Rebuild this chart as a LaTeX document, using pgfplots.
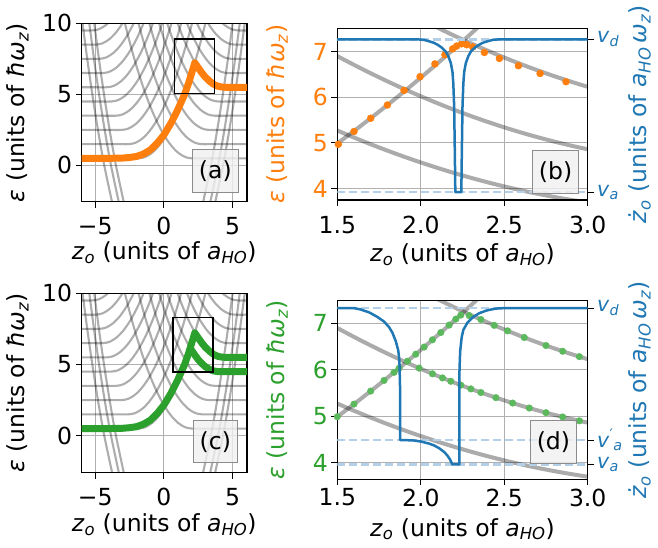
\documentclass[border=0pt]{standalone}
\usepackage{pgfplots}
\pgfplotsset{compat=1.18}
\usepackage{fontspec}
\setmainfont{DejaVu Sans}
\definecolor{tabblue}{HTML}{1F77B4}
\definecolor{taborange}{HTML}{FF7F0E}
\definecolor{tabgreen}{HTML}{2CA02C}
\definecolor{dotgreen}{HTML}{5CB85C}
\definecolor{gridc}{HTML}{B0B0B0}
\definecolor{dashc}{HTML}{B3D0E8}
\newcommand{\F}{\fontsize{23.5}{28}\selectfont}
\newcommand{\Fs}{\fontsize{20.5}{24}\selectfont}
\newcommand{\epsl}{\textit{ε} (units of \textit{ħω}\textsubscript{\textit{z}})}
\newcommand{\zlab}{\textit{z}\textsubscript{\textit{o}} (units of \textit{a}\textsubscript{\textit{HO}})}
\newcommand{\vlab}{\textit{ż}\textsubscript{\textit{o}} (units of \textit{a}\textsubscript{\textit{HO}}\,\textit{ω}\textsubscript{\textit{z}})}
\newcommand{\vD}{\textit{v}\textsubscript{\textit{d}}}
\newcommand{\vA}{\textit{v}\textsubscript{\textit{a}}}
\newcommand{\vAp}{\textit{v}\textsuperscript{′}\textsubscript{\textit{a}}}

\pgfplotsset{
 base/.style={scale only axis, anchor=south west, font=\F,
   tick label style={font=\F}, label style={font=\F},
   tick align=outside, major tick length=6pt,
   every tick/.style={black, line width=1pt},
   axis line style={line width=1.2pt}, clip=true},
 gcurve/.style={draw=black, opacity=0.32, line width=2.1pt, smooth, no markers},
 gfine/.style={draw=black, opacity=0.33, line width=4pt, smooth, no markers},
 gridst/.style={grid=major, grid style={gridc, line width=0.9pt}},
}

\newcommand{\graybig}{%
\addplot[gcurve] coordinates {(-6.5,0.5) (-2.85,0.5) (-1.85,0.5) (-1.35,0.6) (-0.85,0.9) (-0.35,1.4) (0.15,2.1) (0.65,3.0) (1.15,4.1) (1.65,5.4) (2.15,6.9) (2.65,8.6) (3.15,10.5)};
\addplot[gcurve] coordinates {(-6.5,1.5) (-3.56,1.5) (-2.56,1.5) (-2.06,1.6) (-1.56,1.9) (-1.06,2.4) (-0.56,3.1) (-0.06,4.0) (0.44,5.1) (0.94,6.4) (1.44,7.9) (1.94,9.6) (2.44,11.5)};
\addplot[gcurve] coordinates {(-6.5,2.5) (-4.07,2.5) (-3.07,2.5) (-2.57,2.6) (-2.07,2.9) (-1.57,3.4) (-1.07,4.1) (-0.57,5.0) (-0.07,6.1) (0.43,7.4) (0.93,8.9) (1.43,10.6)};
\addplot[gcurve] coordinates {(-6.5,3.5) (-4.48,3.5) (-3.48,3.5) (-2.98,3.6) (-2.48,3.9) (-1.98,4.4) (-1.48,5.1) (-0.98,6.0) (-0.48,7.1) (0.02,8.4) (0.52,9.9) (1.02,11.6)};
\addplot[gcurve] coordinates {(-6.5,4.5) (-4.83,4.5) (-3.83,4.5) (-3.33,4.6) (-2.83,4.9) (-2.33,5.4) (-1.83,6.1) (-1.33,7.0) (-0.83,8.1) (-0.33,9.4) (0.17,10.9)};
\addplot[gcurve] coordinates {(-6.5,5.5) (-5.15,5.5) (-4.15,5.5) (-3.65,5.6) (-3.15,5.9) (-2.65,6.4) (-2.15,7.1) (-1.65,8.0) (-1.15,9.1) (-0.65,10.4) (-0.15,11.9)};
\addplot[gcurve] coordinates {(-6.5,6.5) (-5.44,6.5) (-4.44,6.5) (-3.94,6.6) (-3.44,6.9) (-2.94,7.4) (-2.44,8.1) (-1.94,9.0) (-1.44,10.1) (-0.94,11.4)};
\addplot[gcurve] coordinates {(-6.5,7.5) (-5.7,7.5) (-4.7,7.5) (-4.2,7.6) (-3.7,7.9) (-3.2,8.4) (-2.7,9.1) (-2.2,10.0) (-1.7,11.1)};
\addplot[gcurve] coordinates {(-6.5,8.5) (-5.95,8.5) (-4.95,8.5) (-4.45,8.6) (-3.95,8.9) (-3.45,9.4) (-2.95,10.1) (-2.45,11.0)};
\addplot[gcurve] coordinates {(-6.5,9.5) (-6.19,9.5) (-5.19,9.5) (-4.69,9.6) (-4.19,9.9) (-3.69,10.4) (-3.19,11.1)};
\addplot[gcurve] coordinates {(-2.97,10.5) (-2.47,8.6) (-1.97,6.9) (-1.47,5.4) (-0.97,4.1) (-0.47,3.0) (0.03,2.1) (0.53,1.4) (1.03,0.9) (1.53,0.6) (2.03,0.5) (3.03,0.5) (6.5,0.5)};
\addplot[gcurve] coordinates {(-2.24,11.5) (-1.74,9.6) (-1.24,7.9) (-0.74,6.4) (-0.24,5.1) (0.26,4.0) (0.76,3.1) (1.26,2.4) (1.76,1.9) (2.26,1.6) (2.76,1.5) (3.76,1.5) (6.5,1.5)};
\addplot[gcurve] coordinates {(-1.23,10.6) (-0.73,8.9) (-0.23,7.4) (0.27,6.1) (0.77,5.0) (1.27,4.1) (1.77,3.4) (2.27,2.9) (2.77,2.6) (3.27,2.5) (4.27,2.5) (6.5,2.5)};
\addplot[gcurve] coordinates {(-0.82,11.6) (-0.32,9.9) (0.18,8.4) (0.68,7.1) (1.18,6.0) (1.68,5.1) (2.18,4.4) (2.68,3.9) (3.18,3.6) (3.68,3.5) (4.68,3.5) (6.5,3.5)};
\addplot[gcurve] coordinates {(-0.05,10.9) (0.45,9.4) (0.95,8.1) (1.45,7.0) (1.95,6.1) (2.45,5.4) (2.95,4.9) (3.45,4.6) (3.95,4.5) (4.95,4.5) (6.5,4.5)};
\addplot[gcurve] coordinates {(0.35,11.9) (0.85,10.4) (1.35,9.1) (1.85,8.0) (2.35,7.1) (2.85,6.4) (3.35,5.9) (3.85,5.6) (4.35,5.5) (5.35,5.5) (6.5,5.5)};
\addplot[gcurve] coordinates {(1.14,11.4) (1.64,10.1) (2.14,9.0) (2.64,8.1) (3.14,7.4) (3.64,6.9) (4.14,6.6) (4.64,6.5) (5.64,6.5) (6.5,6.5)};
\addplot[gcurve] coordinates {(1.9,11.1) (2.4,10.0) (2.9,9.1) (3.4,8.4) (3.9,7.9) (4.4,7.6) (4.9,7.5) (5.9,7.5) (6.5,7.5)};
\addplot[gcurve] coordinates {(2.65,11.0) (3.15,10.1) (3.65,9.4) (4.15,8.9) (4.65,8.6) (5.15,8.5) (6.15,8.5) (6.5,8.5)};
\addplot[gcurve] coordinates {(3.39,11.1) (3.89,10.4) (4.39,9.9) (4.89,9.6) (5.39,9.5) (6.5,9.5)};
\addplot[gcurve] coordinates {(2.76,-3) (3.422,0) (3.883,2.5) (4.291,5) (4.662,7.5) (5.003,10) (5.069,10.5)};
\addplot[gcurve] coordinates {(3.28,-3) (3.942,0) (4.403,2.5) (4.811,5) (5.182,7.5) (5.523,10) (5.589,10.5)};
\addplot[gcurve] coordinates {(3.64,-3) (4.302,0) (4.763,2.5) (5.171,5) (5.542,7.5) (5.883,10) (5.949,10.5)};
\addplot[gcurve] coordinates {(-3.68,-3) (-4.342,0) (-4.803,2.5) (-5.211,5) (-5.582,7.5) (-5.923,10) (-5.989,10.5)};
\addplot[gcurve] coordinates {(-3.19,-3) (-3.852,0) (-4.313,2.5) (-4.721,5) (-5.092,7.5) (-5.433,10) (-5.499,10.5)};
\addplot[gcurve] coordinates {(-2.83,-3) (-3.492,0) (-3.953,2.5) (-4.361,5) (-4.732,7.5) (-5.073,10) (-5.139,10.5)};
}

\newcommand{\grayfine}{%
\addplot[gfine] coordinates {(1.4,4.725) (1.5,4.989) (1.6,5.261) (1.7,5.541) (1.8,5.829) (1.9,6.125) (2.0,6.429) (2.1,6.741) (2.2,7.061) (2.3,7.389) (2.4,7.725)};
\addplot[gfine] coordinates {(2.0,7.709) (2.1,7.525) (2.2,7.349) (2.3,7.181) (2.4,7.021) (2.5,6.869) (2.6,6.725) (2.7,6.589) (2.8,6.461) (2.9,6.341) (3.0,6.229) (3.1,6.125)};
\addplot[gfine] coordinates {(1.4,7.101) (1.5,6.901) (1.6,6.709) (1.7,6.525) (1.8,6.349) (1.9,6.181) (2.0,6.021) (2.1,5.869) (2.2,5.725) (2.3,5.589) (2.4,5.461) (2.5,5.341) (2.6,5.229) (2.7,5.125) (2.8,5.029) (2.9,4.941) (3.0,4.861) (3.1,4.789)};
\addplot[gfine] coordinates {(1.4,5.433) (1.5,5.272) (1.6,5.118) (1.7,4.971) (1.8,4.831) (1.9,4.698) (2.0,4.572) (2.1,4.453) (2.2,4.341) (2.3,4.236) (2.4,4.138) (2.5,4.047) (2.6,3.963) (2.7,3.886) (2.8,3.816) (2.9,3.753) (3.0,3.697) (3.1,3.648)};
}

\newcommand{\mainpath}{(-6.2,0.5) (-4,0.5) (-3,0.52) (-2.5,0.56) (-2,0.63) (-1.5,0.8) (-1,1.08) (-0.5,1.55) (0,2.15) (0.5,2.95) (1.0,3.9) (1.5,4.98) (1.8,5.8) (2.0,6.43) (2.15,6.9) (2.25,7.22)}

\begin{document}
\begin{tikzpicture}
% ---------- (a)
\begin{axis}[base, gridst, at={(81.5pt,346.3pt)}, width=165.5pt, height=178.4pt,
  xmin=-6, xmax=6.05, ymin=-2.55, ymax=10,
  xtick={-5,0,5}, xticklabels={−5,0,5}, ytick={0,5,10}, yticklabels={0,5,10},
  xtick pos=left, ytick pos=left, xticklabel style={yshift=-6pt},
  xlabel={\zlab}, ylabel={\epsl},
  xlabel style={at={(axis description cs:0.5,-0.285)}, anchor=center},
  ylabel style={at={(axis description cs:-0.385,0.5)}, anchor=center}]
\graybig
\addplot[taborange, line width=7pt, line join=round] coordinates {\mainpath (2.35,7.08) (2.5,6.87) (2.75,6.53) (3.0,6.23) (3.3,5.95) (3.6,5.72) (3.9,5.58) (4.2,5.52) (4.5,5.5) (6.3,5.5)};
\draw[black, line width=1.2pt] (0.8,5.05) rectangle (3.71,8.9);
\draw[draw=black!45, fill=black!6, fill opacity=0.8, line width=1pt] (2.08,-1.9) rectangle (5.41,1.1);
\node[font=\F] at (3.745,-0.4) {(a)};
\end{axis}
% ---------- (b)
\begin{axis}[base, gridst, at={(337.3pt,348pt)}, width=250.4pt, height=171.7pt,
  xmin=1.5, xmax=3, ymin=3.75, ymax=7.51,
  xtick={1.5,2,2.5,3}, xticklabels={1.5,2.0,2.5,3.0}, ytick={4,5,6,7}, yticklabels={4,5,6,7},
  xtick pos=left, ytick pos=left, yticklabel style={text=taborange}, xticklabel style={yshift=-7pt},
  xlabel={\zlab}, ylabel={\epsl},
  xlabel style={at={(axis description cs:0.5,-0.32)}, anchor=center},
  ylabel style={text=taborange, at={(axis description cs:-0.241,0.5)}, anchor=center}]
\grayfine
\addplot[only marks, mark=*, mark size=3.5pt, mark options={fill=taborange, draw=taborange}] coordinates {
(1.506,4.97) (1.600,5.25) (1.700,5.54) (1.800,5.83) (1.900,6.15) (1.996,6.45) (2.085,6.73) (2.145,6.93) (2.191,7.06) (2.215,7.12) (2.245,7.17) (2.275,7.15) (2.311,7.10) (2.381,6.98) (2.471,6.85) (2.585,6.69) (2.715,6.52) (2.870,6.34)};
\end{axis}
\begin{axis}[base, at={(337.3pt,348pt)}, width=250.4pt, height=171.7pt,
  xmin=1.5, xmax=3, ymin=3.75, ymax=7.51, axis x line=none, axis y line*=right,
  ytick={3.92,7.27}, yticklabels={\vA,\vD}, yticklabel style={text=tabblue, font=\Fs},
  ylabel={\vlab}, ylabel style={text=tabblue, at={(axis description cs:1.209,0.5)}, anchor=center}]
\addplot[dashc, line width=2.5pt, dash pattern=on 8pt off 4pt] coordinates {(1.5,7.27) (3,7.27)};
\addplot[dashc, line width=2.5pt, dash pattern=on 8pt off 4pt] coordinates {(1.5,3.92) (3,3.92)};
\addplot[tabblue, line width=2.5pt, line join=round] coordinates {(1.5,7.27) (1.975,7.27) (2.02,7.255) (2.055,7.22) (2.08,7.19) (2.1,7.15) (2.125,7.09) (2.15,7.0) (2.165,6.9) (2.18,6.75) (2.19,6.55) (2.195,6.3) (2.2,5.8) (2.204,4.8) (2.207,3.92) (2.243,3.92) (2.246,4.8) (2.25,5.8) (2.255,6.3) (2.26,6.55) (2.27,6.75) (2.285,6.9) (2.3,7.0) (2.325,7.09) (2.35,7.15) (2.37,7.19) (2.395,7.22) (2.43,7.255) (2.475,7.27) (3.0,7.27)};
\draw[draw=black!45, fill=black!6, fill opacity=0.8, line width=1pt] (2.671,3.884) rectangle (2.944,4.826);
\node[font=\F] at (2.8075,4.355) {(b)};
\end{axis}
% ---------- (c)
\begin{axis}[base, gridst, at={(81.5pt,75.3pt)}, width=165.5pt, height=179.4pt,
  xmin=-6, xmax=6.05, ymin=-2.6, ymax=10,
  xtick={-5,0,5}, xticklabels={−5,0,5}, ytick={0,5,10}, yticklabels={0,5,10},
  xtick pos=left, ytick pos=left, xticklabel style={yshift=-6pt},
  xlabel={\zlab}, ylabel={\epsl},
  xlabel style={at={(axis description cs:0.5,-0.29)}, anchor=center},
  ylabel style={at={(axis description cs:-0.385,0.5)}, anchor=center}]
\graybig
\addplot[tabgreen, line width=7pt, line join=round] coordinates {(1.912,6.16) (2.0,6.02) (2.25,5.67) (2.5,5.34) (2.75,5.08) (3.0,4.86) (3.3,4.67) (3.6,4.55) (3.95,4.5) (6.3,4.5)};
\addplot[tabgreen, line width=7pt, line join=round] coordinates {\mainpath (2.35,7.08) (2.5,6.87) (2.75,6.53) (3.0,6.23) (3.3,5.95) (3.6,5.72) (3.9,5.58) (4.2,5.52) (4.5,5.5) (6.3,5.5)};
\draw[black, line width=1.2pt] (0.66,4.47) rectangle (3.58,8.31);
\draw[draw=black!45, fill=black!6, fill opacity=0.8, line width=1pt] (2.12,-1.9) rectangle (5.37,1.05);
\node[font=\F] at (3.745,-0.425) {(c)};
\end{axis}
% ---------- (d)
\begin{axis}[base, gridst, at={(337.3pt,68.7pt)}, width=250.4pt, height=178.6pt,
  xmin=1.5, xmax=3, ymin=3.64, ymax=7.49,
  xtick={1.5,2,2.5,3}, xticklabels={1.5,2.0,2.5,3.0}, ytick={4,5,6,7}, yticklabels={4,5,6,7},
  xtick pos=left, ytick pos=left, yticklabel style={text=tabgreen},
  xlabel={\zlab}, ylabel={\epsl},
  xlabel style={at={(axis description cs:0.5,-0.28)}, anchor=center},
  ylabel style={text=tabgreen, at={(axis description cs:-0.241,0.5)}, anchor=center}]
\grayfine
\addplot[only marks, mark=*, mark size=3.3pt, mark options={fill=dotgreen, draw=dotgreen}] coordinates {
(1.5,4.989) (1.6,5.261) (1.7,5.541) (1.78,5.771) (1.84,5.946) (1.87,6.035) (1.92,6.185) (1.97,6.337) (2.02,6.491) (2.07,6.647) (2.12,6.804) (2.17,6.964) (2.21,7.093) (2.24,7.18)
(2.29,7.17) (2.36,7.084) (2.44,6.959) (2.52,6.840) (2.62,6.697) (2.75,6.524) (2.85,6.4) (2.95,6.284)
(1.99,6.037) (2.07,5.914) (2.13,5.825) (2.18,5.753) (2.24,5.670) (2.30,5.589) (2.36,5.511) (2.45,5.4) (2.55,5.284) (2.65,5.176) (2.75,5.076) (2.85,4.984) (2.95,4.9)};
\end{axis}
\begin{axis}[base, at={(337.3pt,68.7pt)}, width=250.4pt, height=178.6pt,
  xmin=1.5, xmax=3, ymin=3.64, ymax=7.49, axis x line=none, axis y line*=right,
  ytick={3.96,4.485,7.33}, yticklabels={\vA,\vAp,\vD}, yticklabel style={text=tabblue, font=\Fs},
  ylabel={\vlab}, ylabel style={text=tabblue, at={(axis description cs:1.209,0.5)}, anchor=center}]
\addplot[dashc, line width=2.5pt, dash pattern=on 8pt off 4pt] coordinates {(1.5,7.33) (3,7.33)};
\addplot[dashc, line width=2.5pt, dash pattern=on 8pt off 4pt] coordinates {(1.5,4.485) (3,4.485)};
\addplot[dashc, line width=2.5pt, dash pattern=on 8pt off 4pt] coordinates {(1.5,3.96) (3,3.96)};
\addplot[tabblue, line width=2.5pt, line join=round] coordinates {(1.5,7.33) (1.6,7.33) (1.64,7.3) (1.69,7.24) (1.74,7.14) (1.78,7.04) (1.81,6.92) (1.83,6.8) (1.85,6.62) (1.865,6.42) (1.872,6.2) (1.876,5.6) (1.877,4.485) (1.95,4.48) (2.0,4.455) (2.05,4.41) (2.08,4.37) (2.11,4.31) (2.14,4.23) (2.16,4.15) (2.175,4.07) (2.188,3.97) (2.19,3.96) (2.231,3.96) (2.232,6.0) (2.236,6.4) (2.245,6.7) (2.255,6.86) (2.28,7.02) (2.315,7.14) (2.35,7.22) (2.395,7.28) (2.45,7.32) (2.5,7.33) (3.0,7.33)};
\draw[draw=black!45, fill=black!6, fill opacity=0.8, line width=1pt] (2.659,3.98) rectangle (2.93,4.90);
\node[font=\F] at (2.7945,4.44) {(d)};
\end{axis}
\pgfresetboundingbox
\useasboundingbox (0,0) rectangle (658pt,548pt);
\end{tikzpicture}
\end{document}
